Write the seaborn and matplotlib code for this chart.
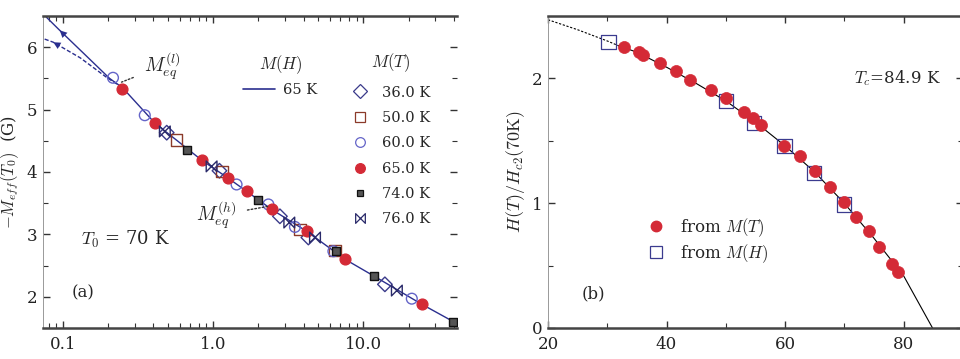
import matplotlib
matplotlib.use("Agg")
import matplotlib.pyplot as plt
import seaborn as sns
import numpy as np
from matplotlib.lines import Line2D
from matplotlib.path import Path
from matplotlib.ticker import FixedLocator, NullFormatter, LogLocator

# ---- panel (a): scaled magnetization, T0 = 70 K ----
mh_x = [0.249, 0.41, 0.57, 0.837, 1.26, 1.67, 2.45, 4.19, 7.56, 11.8, 24.5, 42.0]
mh_y = [5.35, 4.78, 4.51, 4.19, 3.90, 3.69, 3.40, 3.05, 2.60, 2.33, 1.88, 1.57]
up_x = [0.0775, 0.095, 0.14, 0.204, 0.249]
up_y = [6.48, 6.27, 5.88, 5.50, 5.35]
dn_x = [0.0754, 0.086, 0.13, 0.194, 0.249]
dn_y = [6.13, 6.08, 5.83, 5.52, 5.35]

t36_x = [0.49, 1.10, 2.78, 4.30, 13.9]
t36_y = [4.63, 4.02, 3.29, 2.95, 2.20]
t50_x = [0.57, 1.14, 3.80, 6.45]
t50_y = [4.51, 4.01, 3.08, 2.74]
t60_x = [0.215, 0.35, 1.43, 2.33, 3.50, 6.31, 21.0]
t60_y = [5.51, 4.91, 3.80, 3.48, 3.12, 2.73, 1.97]
t65_x = [0.245, 0.41, 0.837, 1.26, 1.67, 2.45, 4.19, 7.56, 24.5]
t65_y = [5.33, 4.78, 4.19, 3.90, 3.69, 3.40, 3.05, 2.60, 1.88]
t74_x = [0.67, 2.00, 6.58, 11.8, 39.4]
t74_y = [4.36, 3.55, 2.73, 2.33, 1.59]
t76_x = [0.476, 0.975, 3.21, 4.76, 16.7]
t76_y = [4.65, 4.09, 3.19, 2.95, 2.10]

# ---- panel (b): reduced field vs temperature ----
fromT_T = [32.8, 35.4, 36.1, 38.9, 41.6, 43.9, 47.5, 50.0, 53.0, 54.6, 56.0,
           59.9, 62.5, 65.0, 67.6, 69.9, 72.0, 74.1, 75.9, 78.1, 79.1]
fromT_h = [2.25, 2.21, 2.19, 2.12, 2.06, 1.99, 1.91, 1.84, 1.73, 1.68, 1.63,
           1.46, 1.38, 1.26, 1.13, 1.01, 0.89, 0.78, 0.65, 0.51, 0.45]
fromH_T = [30.2, 50.0, 54.8, 59.9, 64.9, 69.9]
fromH_h = [2.29, 1.82, 1.64, 1.46, 1.24, 0.99]
fit_T = [20, 25, 30, 32, 35, 40, 45, 50, 55, 60, 65, 70, 75, 80, 84.9]
fit_h = [2.47, 2.39, 2.30, 2.26, 2.21, 2.09, 1.96, 1.82, 1.65, 1.46, 1.25,
         1.00, 0.72, 0.42, 0.0]

sns.set_theme(style="ticks")
plt.rcParams["font.family"] = ["DejaVu Serif"]
plt.rcParams["mathtext.fontset"] = "cm"

navy = "#2b2f8f"
red = "#d42a36"
dark = "#333333"

bowtie = Path([(-1, -1), (1, 1), (1, -1), (-1, 1), (-1, -1)],
              [Path.MOVETO, Path.LINETO, Path.LINETO, Path.LINETO, Path.CLOSEPOLY])

fig = plt.figure(figsize=(9.6, 3.59), dpi=100)
ax1 = fig.add_axes([43 / 960, 31 / 359, 414 / 960, 312 / 359])
ax2 = fig.add_axes([548 / 960, 31 / 359, 414.75 / 960, 312 / 359])

# ---------------- panel (a) ----------------
sns.lineplot(x=mh_x, y=mh_y, ax=ax1, color=navy, lw=1.0, sort=False)
sns.lineplot(x=up_x, y=up_y, ax=ax1, color=navy, lw=1.0, sort=False)
sns.lineplot(x=dn_x, y=dn_y, ax=ax1, color=navy, lw=1.0, ls=(0, (3, 1.5)), sort=False)
for bx, by in [(up_x, up_y), (dn_x, dn_y)]:
    ax1.annotate("", xy=(bx[1], by[1]), xytext=(bx[2], by[2]),
                 arrowprops=dict(arrowstyle="-|>", color=navy, lw=0,
                                 mutation_scale=13, shrinkA=0, shrinkB=0))

series = [
    (t36_x, t36_y, "D", "none", "#3a3a8a", 55, "36.0 K"),
    (t50_x, t50_y, "s", "none", "#8b3a2a", 70, "50.0 K"),
    (t60_x, t60_y, "o", "none", "#6464c8", 60, "60.0 K"),
    (t65_x, t65_y, "o", red, red, 60, "65.0 K"),
    (t74_x, t74_y, "s", "#555555", "#111111", 28, "74.0 K"),
    (t76_x, t76_y, bowtie, "none", "#2a2a6a", 60, "76.0 K"),
]
handles_T = []
for xs, ys, mk, fc, ec, sz, lab in series:
    sns.scatterplot(x=xs, y=ys, ax=ax1, marker=mk, s=sz, facecolors=fc,
                    edgecolors=ec, linewidths=1.0, zorder=3)
    handles_T.append(Line2D([], [], ls="none", marker=mk, markersize=np.sqrt(sz) * 0.9,
                            markerfacecolor=fc, markeredgecolor=ec,
                            markeredgewidth=0.9, label=lab))

ax1.set_xscale("log")
ax1.set_xlim(0.0735, 42)
ax1.set_ylim(1.5, 6.5)
ax1.set_xticks([0.1, 1, 10])
ax1.set_xticklabels(["0.1", "1.0", "10.0"])
ax1.xaxis.set_minor_locator(LogLocator(base=10, subs=np.arange(2, 10)))
ax1.xaxis.set_minor_formatter(NullFormatter())
ax1.yaxis.set_major_locator(FixedLocator([2, 3, 4, 5, 6]))
ax1.yaxis.set_minor_locator(FixedLocator([2.5, 3.5, 4.5, 5.5]))

# annotations
ax1.annotate(r"$M_{eq}^{(l)}$", xy=(0.245, 5.44), xytext=(0.46, 5.70),
             fontsize=14, ha="center", va="center",
             arrowprops=dict(arrowstyle="-", ls=(0, (1.2, 1.5)), color=dark, lw=1.0,
                             shrinkA=6, shrinkB=0))
ax1.annotate(r"$M_{eq}^{(h)}$", xy=(2.33, 3.45), xytext=(1.04, 3.30),
             fontsize=14, ha="center", va="center",
             arrowprops=dict(arrowstyle="-", ls=(0, (1.2, 1.5)), color=dark, lw=1.0,
                             shrinkA=6, shrinkB=0))
ax1.text(0.2, 0.284, r"$T_0$ = 70 K", transform=ax1.transAxes, fontsize=13,
         ha="center", va="center")
ax1.text(0.097, 0.114, "(a)", transform=ax1.transAxes, fontsize=12,
         ha="center", va="center")

leg1 = ax1.legend(handles=[Line2D([], [], color=navy, lw=1.2, label="65 K")],
                  title=r"$M(H)$", loc="upper left", bbox_to_anchor=(0.47, 0.90),
                  frameon=False, fontsize=10.5, title_fontsize=12,
                  handlelength=2.2, handletextpad=0.5, borderaxespad=0)
ax1.add_artist(leg1)
ax1.legend(handles=handles_T, title=r"$M(T)$", loc="upper left",
           bbox_to_anchor=(0.73, 0.905), frameon=False, fontsize=10.5,
           title_fontsize=12, handlelength=1.2, handletextpad=0.9,
           labelspacing=0.78, borderaxespad=0)

ax1.set_ylabel(r"$-M_{eff}(T_0)$  (G)", fontsize=12)
ax1.yaxis.set_label_coords(-0.053, 0.5)

# ---------------- panel (b) ----------------
fit_T_arr = np.array(fit_T)
fit_h_arr = np.array(fit_h)
dash = fit_T_arr <= 32
sns.lineplot(x=fit_T_arr[dash], y=fit_h_arr[dash], ax=ax2, color="black",
             lw=0.8, ls=(0, (2, 1.5)), sort=False)
sns.lineplot(x=fit_T_arr[fit_T_arr >= 32], y=fit_h_arr[fit_T_arr >= 32], ax=ax2,
             color="black", lw=0.8, sort=False)
sns.scatterplot(x=fromH_T, y=fromH_h, ax=ax2, marker="s", s=105, facecolors="none",
                edgecolors="#3b3b8f", linewidths=0.9, zorder=3)
sns.scatterplot(x=fromT_T, y=fromT_h, ax=ax2, marker="o", s=75, facecolors=red,
                edgecolors=red, linewidths=0.5, zorder=4)

ax2.set_xlim(20, 90)
ax2.set_ylim(0, 2.5)
ax2.xaxis.set_major_locator(FixedLocator([20, 40, 60, 80]))
ax2.xaxis.set_minor_locator(FixedLocator([30, 50, 70]))
ax2.yaxis.set_major_locator(FixedLocator([0, 1, 2]))
ax2.yaxis.set_minor_locator(FixedLocator([0.5, 1.5]))

ax2.legend(handles=[
    Line2D([], [], ls="none", marker="o", markersize=7.5, markerfacecolor=red,
           markeredgecolor=red, label=r"from $M(T)$"),
    Line2D([], [], ls="none", marker="s", markersize=8.5, markerfacecolor="none",
           markeredgecolor="#3b3b8f", markeredgewidth=0.9, label=r"from $M(H)$")],
    loc="upper left", bbox_to_anchor=(0.225, 0.38), frameon=False, fontsize=12,
    handlelength=1.0, handletextpad=0.9, labelspacing=0.2, borderaxespad=0)
ax2.text(0.842, 0.80, r"$T_c$=84.9 K", transform=ax2.transAxes, fontsize=12,
         ha="center", va="center")
ax2.text(0.11, 0.11, "(b)", transform=ax2.transAxes, fontsize=12,
         ha="center", va="center")
ax2.set_ylabel(r"$H(T)/H_{c2}(70\mathrm{K})$", fontsize=13)
ax2.yaxis.set_label_coords(-0.05, 0.5)

for ax in (ax1, ax2):
    ax.tick_params(axis="both", which="both", direction="in", top=True, right=True,
                   colors=dark, labelcolor="#222222", labelsize=12)
    ax.tick_params(axis="both", which="major", length=5, width=1.0)
    ax.tick_params(axis="both", which="minor", length=3.5, width=0.8)
    ax.tick_params(axis="x", pad=6)
    ax.tick_params(axis="y", pad=4)
    ax.spines["top"].set_linewidth(1.8)
    ax.spines["bottom"].set_linewidth(1.8)
    ax.spines["top"].set_color("#444444")
    ax.spines["bottom"].set_color("#444444")
    ax.spines["left"].set_linewidth(0.7)
    ax.spines["left"].set_color("#999999")
    ax.spines["right"].set_visible(False)

fig.savefig("out.png", dpi=100)
